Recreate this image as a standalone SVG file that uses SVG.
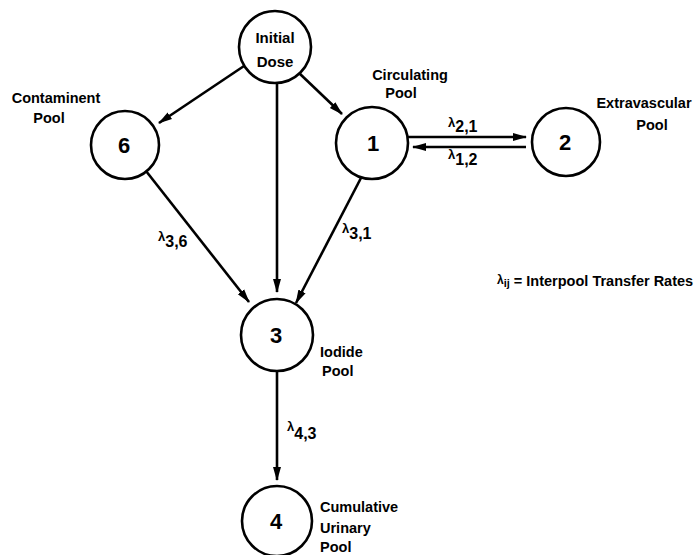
<svg xmlns="http://www.w3.org/2000/svg" width="698" height="555" viewBox="0 0 698 555">
<defs>
<marker id="ah" markerWidth="14" markerHeight="10" refX="13" refY="5" orient="auto" markerUnits="userSpaceOnUse">
<path d="M0,1 L14,5 L0,9 Z" fill="#000"/>
</marker>
<style>
.n{fill:#fff;stroke:#000;stroke-width:2.6}
.t{font-family:"Liberation Sans",Arial,sans-serif;font-weight:bold;fill:#000}
.lb{font-size:14.5px}
.num{font-size:22px;text-anchor:middle}
.c{stroke:#000;stroke-width:2.6;fill:none}
.lam{font-size:13px}
.sub{font-size:16px}
</style>
</defs>
<rect width="698" height="555" fill="#fff"/>
<g id="connectors">
<line class="c" x1="244" y1="66" x2="159" y2="123" marker-end="url(#ah)"/>
<line class="c" x1="277" y1="83" x2="277" y2="292" marker-end="url(#ah)"/>
<line class="c" x1="299" y1="73" x2="342" y2="114" marker-end="url(#ah)"/>
<line class="c" x1="146" y1="171" x2="249" y2="302" marker-end="url(#ah)"/>
<line class="c" x1="362" y1="176" x2="296" y2="303" marker-end="url(#ah)"/>
<line class="c" x1="408" y1="137" x2="526" y2="137" marker-end="url(#ah)"/>
<line class="c" x1="526" y1="147" x2="413" y2="147" marker-end="url(#ah)"/>
<line class="c" x1="277" y1="371" x2="277" y2="480" marker-end="url(#ah)"/>
</g>
<g id="node-initial">
<circle class="n" cx="275" cy="47" r="36"/>
<text class="t" x="275" y="43" font-size="15" text-anchor="middle">Initial</text>
<text class="t" x="275" y="67" font-size="15" text-anchor="middle">Dose</text>
</g>
<g id="node-6">
<circle class="n" cx="125" cy="145" r="34"/>
<text class="t num" x="124" y="153">6</text>
<text class="t lb" x="56" y="103" text-anchor="middle">Contaminent</text>
<text class="t lb" x="49" y="123" text-anchor="middle">Pool</text>
</g>
<g id="node-1">
<circle class="n" cx="372" cy="143" r="36"/>
<text class="t num" x="373" y="151">1</text>
<text class="t lb" x="410" y="80" text-anchor="middle">Circulating</text>
<text class="t lb" x="401" y="98" text-anchor="middle">Pool</text>
</g>
<g id="node-2">
<circle class="n" cx="566" cy="142" r="34"/>
<text class="t num" x="565" y="150">2</text>
<text class="t lb" x="644" y="108" text-anchor="middle">Extravascular</text>
<text class="t lb" x="652" y="130" text-anchor="middle">Pool</text>
</g>
<g id="node-3">
<circle class="n" cx="277" cy="335" r="36"/>
<text class="t num" x="276" y="343">3</text>
<text class="t lb" x="320" y="357">Iodide</text>
<text class="t lb" x="322" y="376">Pool</text>
</g>
<g id="node-4">
<circle class="n" cx="277" cy="521" r="35"/>
<text class="t num" x="276" y="529">4</text>
<text class="t lb" x="320" y="512">Cumulative</text>
<text class="t lb" x="320" y="533">Urinary</text>
<text class="t lb" x="320" y="552">Pool</text>
</g>
<g id="labels">
<text class="t" x="448" y="127"><tspan class="lam">λ</tspan><tspan class="sub" dy="5">2,1</tspan></text>
<text class="t" x="448" y="159"><tspan class="lam">λ</tspan><tspan class="sub" dy="6">1,2</tspan></text>
<text class="t" x="158" y="241"><tspan class="lam">λ</tspan><tspan class="sub" dy="6">3,6</tspan></text>
<text class="t" x="342" y="233"><tspan class="lam">λ</tspan><tspan class="sub" dy="6">3,1</tspan></text>
<text class="t" x="287" y="431"><tspan class="lam">λ</tspan><tspan class="sub" dy="8">4,3</tspan></text>
<text class="t" x="497" y="284" font-size="14.5"><tspan font-size="12">λ</tspan><tspan font-size="11" dy="3">ij</tspan><tspan dy="-1"> = Interpool  Transfer Rates</tspan></text>
</g>
</svg>
